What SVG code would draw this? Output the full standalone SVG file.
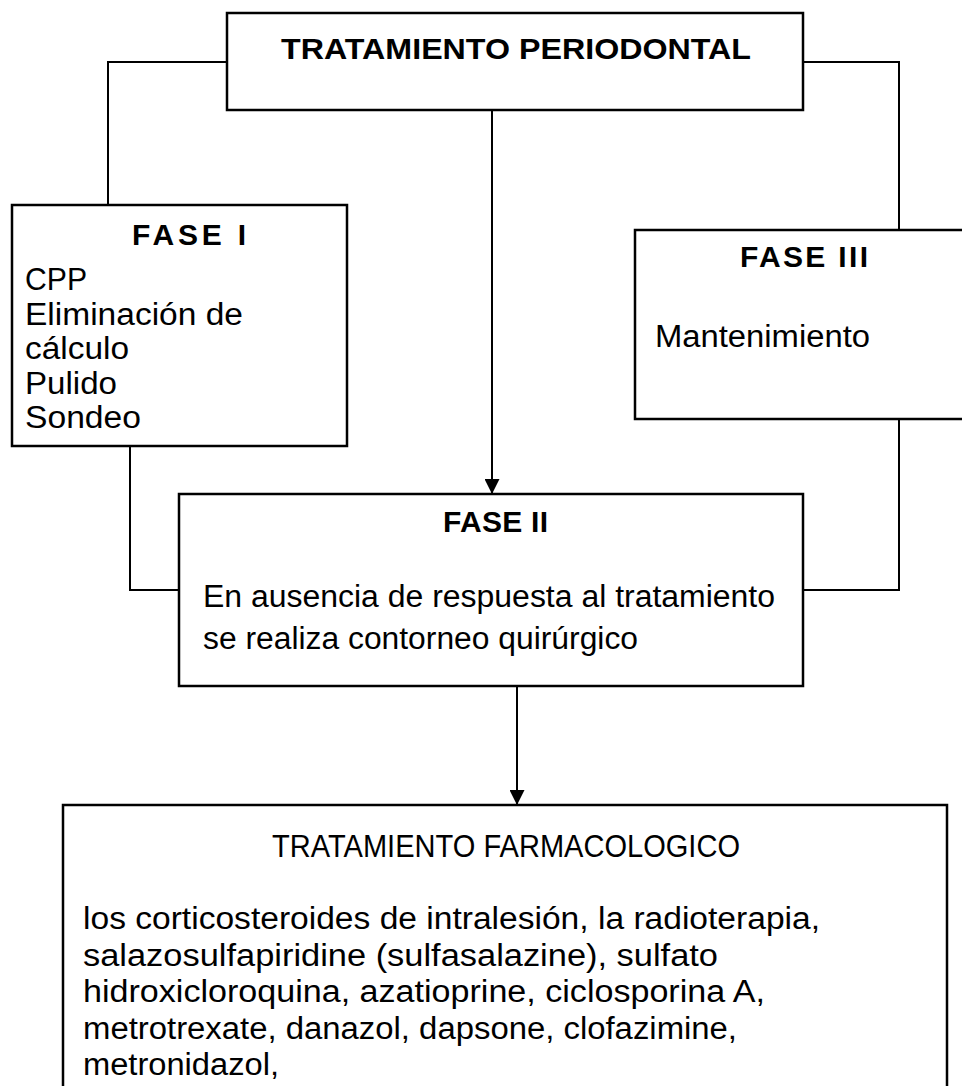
<svg xmlns="http://www.w3.org/2000/svg" width="962" height="1086" viewBox="0 0 962 1086">
<style>
.box{fill:#fff;stroke:#000;stroke-width:2.5}
.con{fill:none;stroke:#000;stroke-width:2}
text{font-family:"Liberation Sans",Arial,sans-serif;font-size:31px;fill:#000}
.b{font-weight:bold;font-size:30px}
</style>
<defs>
<marker id="arr" markerUnits="userSpaceOnUse" markerWidth="16" markerHeight="15" refX="15" refY="7.5" orient="auto">
<path d="M0,0 L15,7.5 L0,15 Z" fill="#000"/>
</marker>
</defs>
<g id="connectors">
<polyline class="con" points="227,62 108,62 108,205"/>
<polyline class="con" points="803,62 899,62 899,230"/>
<line class="con" x1="492" y1="110" x2="492" y2="494" marker-end="url(#arr)"/>
<polyline class="con" points="130,446 130,590 179,590"/>
<polyline class="con" points="899,419 899,590 803,590"/>
<line class="con" x1="517" y1="686" x2="517" y2="805" marker-end="url(#arr)"/>
</g>
<g id="top">
<rect class="box" x="227" y="13" width="576" height="97"/>
<text class="b" x="281" y="59" font-size="32" textLength="470" lengthAdjust="spacingAndGlyphs">TRATAMIENTO PERIODONTAL</text>
</g>
<g id="fase1">
<rect class="box" x="12" y="205" width="335" height="241"/>
<text class="b" x="132" y="245" textLength="114" lengthAdjust="spacing">FASE I</text>
<text x="25" y="290" textLength="62" lengthAdjust="spacingAndGlyphs">CPP</text>
<text x="25" y="325" textLength="218" lengthAdjust="spacingAndGlyphs">Eliminación de</text>
<text x="25" y="359" textLength="104" lengthAdjust="spacingAndGlyphs">cálculo</text>
<text x="25" y="394" textLength="92" lengthAdjust="spacingAndGlyphs">Pulido</text>
<text x="25" y="428" textLength="116" lengthAdjust="spacingAndGlyphs">Sondeo</text>
</g>
<g id="fase3">
<rect class="box" x="635" y="230" width="340" height="189"/>
<text class="b" x="740" y="267" textLength="128" lengthAdjust="spacing">FASE III</text>
<text x="655" y="347" textLength="215" lengthAdjust="spacingAndGlyphs">Mantenimiento</text>
</g>
<g id="fase2">
<rect class="box" x="179" y="494" width="624" height="192"/>
<text class="b" x="443" y="532" textLength="105" lengthAdjust="spacing">FASE II</text>
<text x="203" y="607" textLength="572" lengthAdjust="spacingAndGlyphs">En ausencia de respuesta al tratamiento</text>
<text x="203" y="649" textLength="435" lengthAdjust="spacingAndGlyphs">se realiza contorneo quirúrgico</text>
</g>
<g id="farmaco">
<rect class="box" x="63" y="805" width="884" height="300"/>
<text x="272" y="857" textLength="468" lengthAdjust="spacingAndGlyphs">TRATAMIENTO FARMACOLOGICO</text>
<text x="83" y="929" textLength="737" lengthAdjust="spacingAndGlyphs">los corticosteroides de intralesión, la radioterapia,</text>
<text x="83" y="966" textLength="635" lengthAdjust="spacingAndGlyphs">salazosulfapiridine (sulfasalazine), sulfato</text>
<text x="83" y="1002" textLength="682" lengthAdjust="spacingAndGlyphs">hidroxicloroquina, azatioprine, ciclosporina A,</text>
<text x="83" y="1039" textLength="654" lengthAdjust="spacingAndGlyphs">metrotrexate, danazol, dapsone, clofazimine,</text>
<text x="83" y="1075" textLength="196" lengthAdjust="spacingAndGlyphs">metronidazol,</text>
</g>
</svg>
